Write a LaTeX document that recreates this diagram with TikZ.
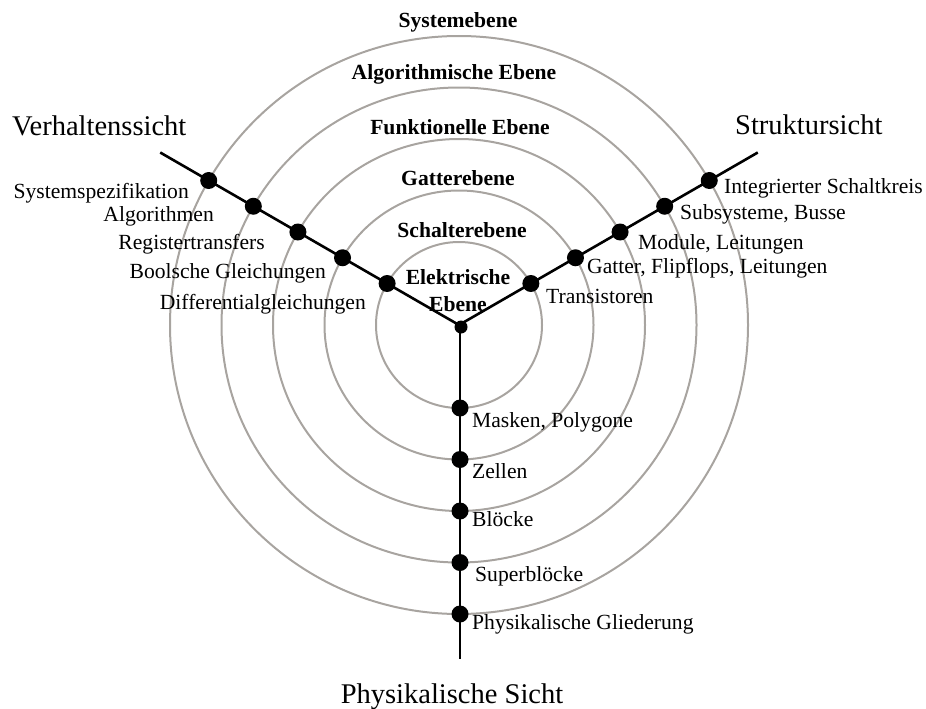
\documentclass[tikz,border=0pt]{standalone}
\usepackage{fontspec}
\setmainfont{Liberation Serif}
\usetikzlibrary{calc}
\definecolor{ringgray}{RGB}{168,164,160}
\begin{document}
\begin{tikzpicture}[x=1pt,y=-1pt,
  ring/.style={draw=ringgray, line width=2pt},
  axis/.style={line width=2.6pt},
  dot/.style={circle, fill=black, inner sep=0pt, minimum size=17pt},
  hub/.style={circle, fill=black, inner sep=0pt, minimum size=13pt},
  lvl/.style={font=\fontsize{21.6}{26.7}\selectfont\bfseries, inner sep=0pt, align=center},
  lbl/.style={font=\fontsize{21.6}{24}\selectfont, inner sep=0pt},
  view/.style={font=\fontsize{28.5}{32}\selectfont, inner sep=0pt}]
\useasboundingbox (0,0) rectangle (926,709);

% centre of the Y-chart
\coordinate (C) at (459,325);

% abstraction levels as concentric rings
\foreach \r in {83,134.5,186,237.5,289}
  \draw[ring] (C) circle[radius=\r];

% the three axes
\coordinate (Lend) at ($(C)+(210:345)$);
\coordinate (Rend) at ($(C)+(330:345)$);
\coordinate (Bend) at (460,659);
\draw[axis] (Lend) -- (C) -- (Rend);
\draw[axis] (460,325) -- (Bend);

% points where the axes cross the rings
\foreach \r [count=\i] in {83,134.5,186,237.5,289} {
  \node[dot] (l\i) at ($(C)+(210:\r)$) {};
  \node[dot] (s\i) at ($(C)+(330:\r)$) {};
  \node[dot] (p\i) at ($(C)+(90:\r)+(1,0)$) {};
}
\node[hub] (hub) at (461,327) {};

% level names
\node[lvl, anchor=base] (e5) at (458,28) {Systemebene};
\node[lvl, anchor=base] (e4) at (454,80) {Algorithmische Ebene};
\node[lvl, anchor=base] (e3) at (460,134) {Funktionelle Ebene};
\node[lvl, anchor=base] (e2) at (458,185) {Gatterebene};
\node[lvl, anchor=base] (e1) at (462,237) {Schalterebene};
\node[lvl, anchor=south] (e0) at (458,312) {Elektrische\\Ebene};

% behavioural view
\node[lbl, anchor=base east] at (189,198) {Systemspezifikation};
\node[lbl, anchor=base east] at (214,221) {Algorithmen};
\node[lbl, anchor=base east] at (265,249) {Registertransfers};
\node[lbl, anchor=base east] at (326,278) {Boolsche Gleichungen};
\node[lbl, anchor=base east] at (366,309) {Differentialgleichungen};

% structural view
\node[lbl, anchor=base west] at (546,303) {Transistoren};
\node[lbl, anchor=base west] at (587,273) {Gatter, Flipflops, Leitungen};
\node[lbl, anchor=base west] at (638,249) {Module, Leitungen};
\node[lbl, anchor=base west] at (680,219) {Subsysteme, Busse};
\node[lbl, anchor=base west] at (724,193) {Integrierter Schaltkreis};

% physical view
\node[lbl, anchor=base west] at (472,427) {Masken, Polygone};
\node[lbl, anchor=base west] at (472,478) {Zellen};
\node[lbl, anchor=base west] at (472,526) {Blöcke};
\node[lbl, anchor=base west] at (475,581) {Superblöcke};
\node[lbl, anchor=base west] at (472,629) {Physikalische Gliederung};

% view titles
\node[view, anchor=base west] at (12,135) {Verhaltenssicht};
\node[view, anchor=base west] at (735,134) {Struktursicht};
\node[view, anchor=base] at (452,703) {Physikalische Sicht};
\end{tikzpicture}
\end{document}
